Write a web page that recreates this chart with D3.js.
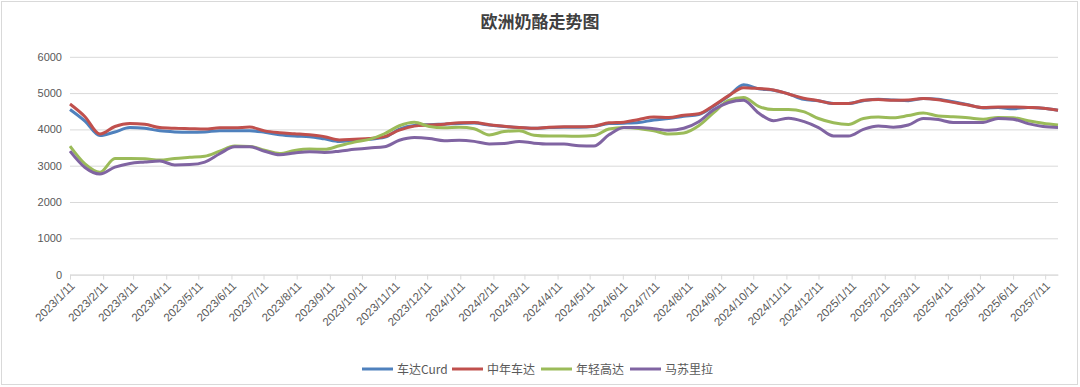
<!DOCTYPE html>
<html><head><meta charset="utf-8">
<script src="https://cdn.jsdelivr.net/npm/d3@7"></script>
<style>
body{margin:0;background:#fff;}
svg{display:block;font-family:"Noto Sans CJK SC","Noto Sans",sans-serif;}
</style></head>
<body>
<script>
const startDate = "2023-01-11";
const stepDays = 14;
const seriesNames = ["车达Curd","中年车达","年轻高达","马苏里拉"];
const seriesColors = ["#4F81BD","#C0504D","#9BBB59","#8064A2"];
const curd = [4550,4230,3830,3930,4050,4030,3960,3930,3920,3930,3965,3965,3965,3920,3850,3815,3800,3740,3670,3700,3730,3780,4010,4110,4130,4145,4165,4175,4120,4080,4050,4030,4050,4060,4060,4080,4160,4170,4190,4260,4300,4360,4410,4640,4920,5230,5120,5080,4980,4830,4790,4714,4714,4790,4830,4810,4790,4850,4830,4760,4680,4590,4600,4570,4605,4580,4530];
const aged = [4700,4350,3870,4080,4160,4140,4050,4030,4020,4010,4045,4045,4065,3960,3910,3880,3850,3800,3710,3730,3750,3800,3980,4090,4120,4145,4180,4190,4130,4090,4050,4030,4060,4070,4070,4090,4180,4200,4275,4340,4330,4390,4430,4660,4930,5150,5125,5085,4975,4860,4790,4714,4714,4800,4824,4800,4810,4850,4815,4745,4670,4600,4620,4620,4605,4585,4530];
const gouda = [3540,3050,2820,3200,3200,3190,3155,3200,3230,3260,3400,3540,3530,3430,3338,3420,3460,3450,3550,3650,3725,3880,4100,4195,4080,4045,4060,4020,3845,3940,3960,3840,3817,3817,3810,3830,4010,4055,4027,3960,3872,3900,4100,4460,4800,4880,4635,4545,4550,4490,4300,4183,4137,4300,4340,4320,4380,4450,4370,4348,4320,4280,4330,4320,4240,4170,4119];
const mozz = [3400,2950,2770,2960,3063,3100,3128,3020,3030,3100,3330,3522,3520,3400,3300,3350,3385,3365,3400,3450,3490,3520,3700,3775,3750,3690,3700,3670,3600,3610,3670,3620,3597,3597,3550,3541,3850,4050,4055,4020,3975,4030,4210,4540,4740,4806,4450,4240,4310,4220,4050,3820,3817,4000,4095,4060,4120,4300,4270,4192,4192,4192,4300,4280,4160,4080,4055];
const yTicks = [0,1000,2000,3000,4000,5000,6000];
const titleText = "欧洲奶酪走势图";
const axisEnd = "2025-07-23";

const W=1080,H=387;
const parse=d3.utcParse("%Y-%m-%d");
const t0=parse(startDate);
const dates=curd.map((_,i)=>d3.utcDay.offset(t0,i*stepDays));
const allSeries=[curd,aged,gouda,mozz];

const svg=d3.select("body").append("svg").attr("width",W).attr("height",H);
svg.append("rect").attr("x",1.5).attr("y",1.5).attr("width",1076).attr("height",383)
  .attr("fill","#fff").attr("stroke","#d9d9d9");

const x=d3.scaleUtc().domain([t0,parse(axisEnd)]).range([70,1058]);
const y=d3.scaleLinear().domain([0,6000]).range([274.6,56.8]);

svg.append("text").attr("x",540).attr("y",28).attr("text-anchor","middle")
  .attr("font-size",17).attr("font-weight","bold").attr("fill","#404040").text(titleText);

// grid
const yAxis=d3.axisLeft(y).tickValues(yTicks).tickSize(-(1058-70)).tickFormat(d3.format("d"));
const gy=svg.append("g").attr("transform","translate(70,0)").call(yAxis);
gy.select(".domain").remove();
gy.selectAll(".tick line").attr("stroke","#d9d9d9");
gy.selectAll(".tick text").attr("x",-8).attr("fill","#595959").attr("font-size",11)
  .attr("font-family","Liberation Sans, Arial, sans-serif");

// x axis
const monthTicks=d3.range(0,31).map(i=>d3.utcMonth.offset(t0,i));
const xAxis=d3.axisBottom(x).tickValues(monthTicks).tickSize(5).tickSizeOuter(0)
  .tickFormat(d=>`${d.getUTCFullYear()}/${d.getUTCMonth()+1}/${d.getUTCDate()}`);
const gx=svg.append("g").attr("transform","translate(0,274.6)").call(xAxis);
gx.select(".domain").attr("stroke","#d9d9d9");
gx.selectAll(".tick line").attr("stroke","#d9d9d9");
gx.selectAll(".tick text").attr("fill","#595959").attr("font-size",11.5)
  .attr("text-anchor","end").attr("dy",0).attr("y",0)
  .attr("transform","translate(5,12) rotate(-45)")
  .attr("font-family","Liberation Sans, Arial, sans-serif");

const line=d3.line().x((d,i)=>x(dates[i])).y(d=>y(d)).curve(d3.curveMonotoneX);
allSeries.forEach((s,j)=>{
  svg.append("path").datum(s).attr("d",line).attr("fill","none")
    .attr("stroke",seriesColors[j]).attr("stroke-width",3).attr("stroke-linejoin","round");
});

// legend
const legendX=[362,452,541,630];
const lg=svg.append("g").attr("transform","translate(0,369)");
seriesNames.forEach((n,j)=>{
  lg.append("line").attr("x1",legendX[j]).attr("x2",legendX[j]+31).attr("y1",0).attr("y2",0)
    .attr("stroke",seriesColors[j]).attr("stroke-width",3);
  lg.append("text").attr("x",legendX[j]+35).attr("y",4.5).attr("font-size",12).attr("fill","#595959").text(n);
});
</script>
</body></html>
